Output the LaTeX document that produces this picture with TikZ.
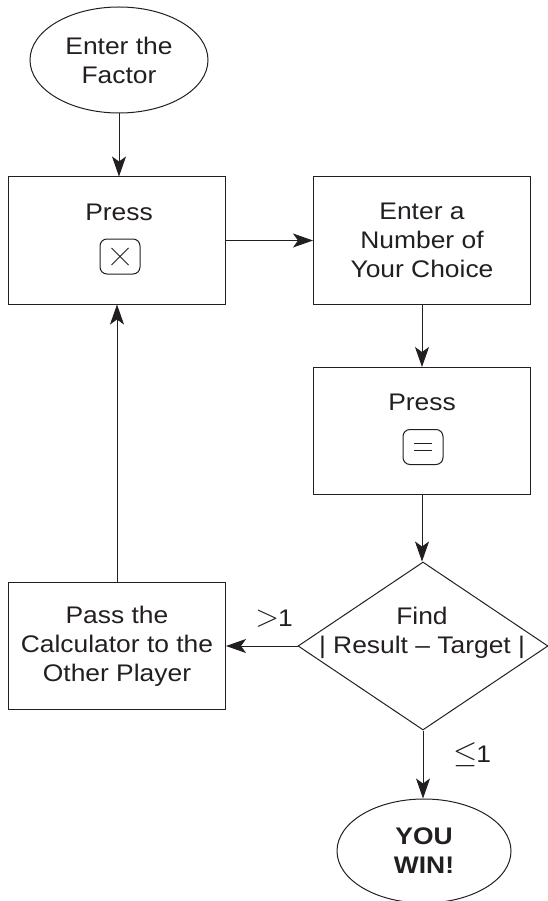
\documentclass[tikz,border=0pt]{standalone}
\usepackage{fontspec}
\setmainfont{Liberation Sans}[FakeStretch=1.1]
\usetikzlibrary{arrows.meta,shapes.geometric}
\definecolor{ink}{HTML}{231F20}
\tikzset{
  flow/.style={draw=ink, line width=1pt, text=ink, align=center,
    font=\fontsize{24}{29}\selectfont, inner sep=0pt},
  procbox/.style={flow, rectangle, minimum width=217, minimum height=127},
  termnode/.style={flow, ellipse},
  decide/.style={flow, diamond, minimum width=250, minimum height=168},
  keycap/.style={draw=ink, line width=1pt, rounded corners=7pt,
    minimum width=40, minimum height=35, inner sep=0pt},
  keysign/.style={draw=ink, line width=0.9pt},
  plain/.style={text=ink, align=center, inner sep=0pt,
    font=\fontsize{24}{29}\selectfont},
  link/.style={draw=ink, line width=1pt,
    -{Stealth[length=20pt,width=14pt,inset=5pt]}}
}
\begin{document}
\begin{tikzpicture}[x=1pt,y=-1pt]
\useasboundingbox (0,0) rectangle (547,901);

% start and end terminals
\node[termnode, minimum width=178, minimum height=106] (start) at (119,60) {Enter the\\Factor};
\node[termnode, minimum width=174, minimum height=104,
      font=\fontsize{24}{29}\selectfont\bfseries] (win) at (424,851) {YOU\\WIN!};

% process boxes
\node[procbox] (mult) at (117,240.5) {};
\node[plain] (multlabel) at (119,212) {Press};
\node[keycap] (timeskey) at (120,256.5) {};
\draw[keysign] ([shift={(-8.5,-8.5)}]timeskey.center) -- ([shift={(8.5,8.5)}]timeskey.center);
\draw[keysign] ([shift={(-8.5,8.5)}]timeskey.center) -- ([shift={(8.5,-8.5)}]timeskey.center);

\node[procbox] (choose) at (422,240.5) {Enter a\\Number of\\Your Choice};

\node[procbox] (equals) at (422,431) {};
\node[plain] (eqlabel) at (422,402) {Press};
\node[keycap] (eqkey) at (423,447) {};
\draw[keysign] ([shift={(-9,-3.5)}]eqkey.center) -- ([shift={(9,-3.5)}]eqkey.center);
\draw[keysign] ([shift={(-9,3.5)}]eqkey.center) -- ([shift={(9,3.5)}]eqkey.center);

\node[procbox] (pass) at (117,646) {Pass the\\Calculator to the\\Other Player};

% decision
\node[decide] (check) at (423,646) {};
\node[plain] (checklabel) at (422,633) {Find\\| Result -- Target |};

% connectors
\draw[link] (start.south) -- (start.south |- mult.north);
\draw[link] (mult.east) -- (choose.west);
\draw[link] (choose.south) -- (equals.north);
\draw[link] (equals.south) -- (equals.south |- check.north);
\draw[link] (check.west) -- (pass.east);
\draw[link] (pass.north) -- (mult.south);
\draw[link] (check.south) -- (check.south |- win.north);

% branch labels
\node[plain] (gtlabel) at (274,619) {\scalebox{1.25}{$>$}\kern-1pt 1};
\node[plain] (lelabel) at (472,755) {\scalebox{1.25}{$\leq$}\kern-1pt 1};
\end{tikzpicture}
\end{document}
